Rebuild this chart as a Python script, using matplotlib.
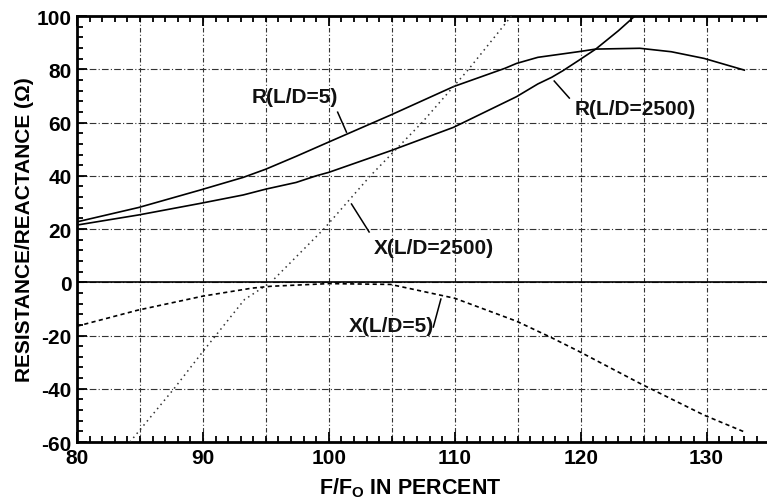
import matplotlib
matplotlib.use('Agg')
import matplotlib.pyplot as plt
from matplotlib.ticker import MultipleLocator

plt.rcParams['font.family'] = ['Liberation Sans', 'DejaVu Sans']
plt.rcParams['font.weight'] = 'bold'
plt.rcParams['axes.unicode_minus'] = False
plt.rcParams['mathtext.fontset'] = 'custom'
plt.rcParams['mathtext.rm'] = 'Liberation Sans:bold'
plt.rcParams['mathtext.it'] = 'Liberation Sans:bold'
plt.rcParams['mathtext.bf'] = 'Liberation Sans:bold'

# R(L/D=5)
r5_x = [80, 84.9, 89.75, 93.2, 95.0, 97.4, 100, 104.9, 109.9, 114.0, 114.9, 116.6, 119.8,
        121.2, 124.7, 127.2, 129.8, 133]
r5_y = [22.7, 28.1, 34.6, 39.4, 42.5, 47.3, 52.7, 62.8, 73.5, 80.4, 82.2, 84.5, 86.6,
        87.6, 87.9, 86.6, 84.1, 79.7]

# R(L/D=2500)
r2500_x = [80, 84.9, 89.75, 93.2, 95.0, 97.4, 99.0, 100, 104.9, 109.9, 114.9, 116.6, 117.7,
           118.6, 119.8, 121.2, 123.0, 124.3]
r2500_y = [21.5, 25.3, 29.6, 32.8, 35.0, 37.5, 40.0, 41.3, 49.4, 58.2, 69.7, 74.5, 77.0,
           79.5, 83.2, 87.6, 94.5, 100]

# X(L/D=2500)
x2500_x = [84.2, 87.7, 90, 93.3, 95.4, 99.6, 103.3, 107.4, 111.1, 114.5]
x2500_y = [-60, -40, -26, -6.5, 0, 20, 40, 60, 80, 100]

# X(L/D=5)
x5_x = [80, 84.8, 90, 93.9, 95.4, 100, 104.9, 110, 114.9, 117.6, 119.8, 124.8, 129.8, 133]
x5_y = [-16.5, -10.5, -5.2, -2.2, -1.5, -0.5, -0.8, -6, -14.6, -20.6, -25.8, -38.2, -49.9, -56.2]

fig = plt.figure(figsize=(7.67, 5.02), dpi=100)
ax = fig.add_axes([0.1004, 0.1175, 0.8996, 0.8485])

ax.set_xlim(80, 134.8)
ax.set_ylim(-60, 100)

for gx in range(85, 136, 5):
    ax.axvline(gx, color='#333333', lw=0.8, ls=(0, (4, 2, 1, 2)), zorder=1)
for gy in range(-40, 100, 20):
    ax.axhline(gy, color='#333333', lw=0.8, ls=(0, (6, 2, 1, 2)), zorder=1)
ax.axhline(0, color='black', lw=1.2, zorder=2)

ax.plot(r5_x, r5_y, color='black', lw=1.2, zorder=3)
ax.plot(r2500_x, r2500_y, color='black', lw=1.2, zorder=3)
ax.plot(x2500_x, x2500_y, color='#333333', lw=1.1, ls=(0, (1, 2.5)), zorder=3)
ax.plot(x5_x, x5_y, color='black', lw=1.2, ls=(0, (2.5, 2)), zorder=3)

lab = dict(fontsize=15, fontweight='bold', color='#111111')
ax.text(93.9, 69.6, 'R(L/D=5)', ha='left', va='center', **lab)
ax.plot([100.7, 101.4], [63.9, 56.4], color='black', lw=1.1)
ax.text(103.6, 12.9, 'X(L/D=2500)', ha='left', va='center', **lab)
ax.plot([101.8, 103.2], [29.4, 18.9], color='black', lw=1.1)
ax.text(119.5, 65.4, 'R(L/D=2500)', ha='left', va='center', **lab)
ax.plot([117.9, 119.1], [75.6, 69.2], color='black', lw=1.1)
ax.text(101.6, -16.1, 'X(L/D=5)', ha='left', va='center', **lab)
ax.plot([108.3, 108.9], [-16.8, -6.3], color='black', lw=1.1)

ax.xaxis.set_major_locator(MultipleLocator(10))
ax.xaxis.set_minor_locator(MultipleLocator(1))
ax.yaxis.set_major_locator(MultipleLocator(20))
ax.yaxis.set_minor_locator(MultipleLocator(4))
ax.tick_params(which='both', direction='in', top=True, right=False, width=1.3)
ax.tick_params(which='major', length=7, labelsize=15, pad=4)
ax.tick_params(which='minor', length=4)
for t in ax.get_xticklabels() + ax.get_yticklabels():
    t.set_fontweight('bold')

for s in ['left', 'bottom', 'top']:
    ax.spines[s].set_linewidth(2)
ax.spines['right'].set_visible(False)

fig.text(410 / 767, 1 - 488 / 502, r'F/F$_{\mathrm{O}}$ IN PERCENT', fontsize=15.5,
         fontweight='bold', ha='center', va='center')
ax.set_ylabel('RESISTANCE/REACTANCE (Ω)', fontsize=15, fontweight='bold', labelpad=2)

fig.savefig('out.png', dpi=100)
